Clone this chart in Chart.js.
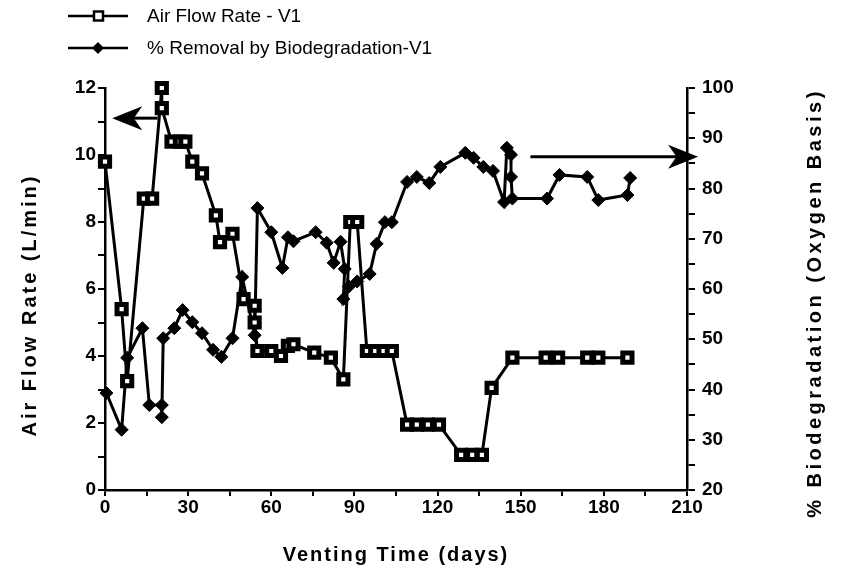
<!DOCTYPE html>
<html>
<head>
<meta charset="utf-8">
<script src="https://cdn.jsdelivr.net/npm/chart.js@4/dist/chart.umd.min.js"></script>
<style>
html,body{margin:0;padding:0;background:#fff;}
#wrap{width:841px;height:583px;position:relative;}
</style>
</head>
<body>
<div id="wrap"><canvas id="c"></canvas></div>
<script>
// ---- data ----
const flowDays  = [0, 6, 8, 14, 17, 20.5, 20.5, 24, 27, 29, 31.5, 35, 40, 41.5, 46, 50, 54, 54, 55, 60, 63.5, 66, 68, 75.5, 81.5, 86, 88.5, 91, 94.5, 97.5, 100.5, 103.5, 109, 112.5, 116.5, 120.5, 128.5, 132.5, 136, 139.5, 147, 159, 163.5, 174, 178, 188.5];
const flowRates = [9.8, 5.4, 3.25, 8.7, 8.7, 12, 11.4, 10.4, 10.4, 10.4, 9.8, 9.45, 8.2, 7.4, 7.65, 5.7, 5.5, 5.0, 4.15, 4.15, 4.0, 4.3, 4.35, 4.1, 3.95, 3.3, 8.0, 8.0, 4.15, 4.15, 4.15, 4.15, 1.95, 1.95, 1.95, 1.95, 1.05, 1.05, 1.05, 3.05, 3.95, 3.95, 3.95, 3.95, 3.95, 3.95];

const bioDays    = [0.5, 6, 8, 13.5, 16, 20.5, 20.5, 21, 25, 28, 31.5, 35, 39, 42, 46, 49.5, 54, 55, 60, 64, 66, 68, 76, 80, 82.5, 85, 86.5, 86, 88, 91, 95.5, 98, 101, 103.5, 109, 112.5, 117, 121, 130, 133, 136.5, 140, 144, 145, 146.5, 146.5, 147, 159.5, 164, 174, 178, 188.5, 189.5];
const bioRemoval = [39.3, 32, 46.3, 52.2, 36.9, 36.9, 34.5, 50.2, 52.2, 55.8, 53.4, 51.2, 47.9, 46.5, 50.2, 62.4, 50.8, 76.1, 71.3, 64.2, 70.3, 69.5, 71.3, 69.2, 65.2, 69.4, 64, 58, 60.5, 61.5, 63, 69, 73.3, 73.3, 81.3, 82.3, 81.1, 84.3, 87.1, 86.1, 84.3, 83.5, 77.3, 88.1, 86.7, 82.3, 78, 78, 82.7, 82.3, 77.7, 78.7, 82.1];

const xTicks     = [0, 30, 60, 90, 120, 150, 180, 210];
const leftTicks  = [0, 2, 4, 6, 8, 10, 12];
const rightTicks = [20, 30, 40, 50, 60, 70, 80, 90, 100];

const seriesNames = ['Air Flow Rate - V1', '% Removal by Biodegradation-V1'];
const xTitle = 'Venting Time (days)';
const leftTitle = 'Air Flow Rate (L/min)';
const rightTitle = '% Biodegradation (Oxygen Basis)';

// arrows (in data units)
const leftArrow  = {from: 19, to: 2.6, y: 11.1, axis: 'yL'};
const rightArrow = {from: 153.5, to: 214, y: 86.3, axis: 'yR'};

const FONT = "'Liberation Sans', Arial, Helvetica, sans-serif";
Chart.defaults.font.family = FONT;
Chart.defaults.color = '#000';

const toXY = (xs, ys) => xs.map((x, i) => ({x: x, y: ys[i]}));

function drawArrow(ctx, chart, a) {
  const xs = chart.scales.x, ys = chart.scales[a.axis];
  const x0 = xs.getPixelForValue(a.from), x1 = xs.getPixelForValue(a.to);
  const y = ys.getPixelForValue(a.y);
  const dir = Math.sign(x1 - x0);
  const headL = 30, headH = 12;
  ctx.save();
  ctx.strokeStyle = '#000'; ctx.fillStyle = '#000'; ctx.lineWidth = 3;
  ctx.beginPath(); ctx.moveTo(x0, y); ctx.lineTo(x1 - dir * headL * 0.6, y); ctx.stroke();
  ctx.beginPath();
  ctx.moveTo(x1, y);
  ctx.lineTo(x1 - dir * headL, y - headH);
  ctx.lineTo(x1 - dir * headL * 0.72, y);
  ctx.lineTo(x1 - dir * headL, y + headH);
  ctx.closePath(); ctx.fill();
  ctx.restore();
}

const decor = {
  id: 'decor',
  afterDraw(chart) {
    const ctx = chart.ctx;
    drawArrow(ctx, chart, leftArrow);
    drawArrow(ctx, chart, rightArrow);
    ctx.save();
    ctx.fillStyle = '#000';
    // axis titles
    ctx.font = 'bold 20px ' + FONT;
    ctx.textAlign = 'center'; ctx.textBaseline = 'middle';
    ctx.letterSpacing = '2px';
    ctx.fillText(xTitle, 396, 555);
    ctx.save(); ctx.translate(30, 305); ctx.rotate(-Math.PI / 2); ctx.letterSpacing = '3px'; ctx.fillText(leftTitle, 0, 0); ctx.restore();
    ctx.save(); ctx.translate(815, 303); ctx.rotate(-Math.PI / 2); ctx.letterSpacing = '3.5px'; ctx.fillText(rightTitle, 0, 0); ctx.restore();
    // legend
    ctx.letterSpacing = '0px';
    ctx.font = '19px ' + FONT;
    ctx.textAlign = 'left';
    const rows = [16, 48];
    rows.forEach((y, i) => {
      ctx.strokeStyle = '#000'; ctx.lineWidth = 2.5;
      ctx.beginPath(); ctx.moveTo(68, y); ctx.lineTo(128, y); ctx.stroke();
      if (i === 0) {
        ctx.fillStyle = '#fff'; ctx.lineWidth = 2.5;
        ctx.fillRect(94, y - 4.5, 9, 9); ctx.strokeRect(94, y - 4.5, 9, 9);
      } else {
        ctx.fillStyle = '#000';
        ctx.beginPath(); ctx.moveTo(98, y - 6); ctx.lineTo(104, y); ctx.lineTo(98, y + 6); ctx.lineTo(92, y); ctx.closePath(); ctx.fill();
      }
      ctx.fillStyle = '#000';
      ctx.fillText(seriesNames[i], 147, y + 1);
    });
    ctx.restore();
  }
};

const tickFont = {size: 19, weight: 'bold', family: FONT};

new Chart(document.getElementById('c'), {
  type: 'line',
  data: {
    datasets: [
      {
        label: seriesNames[0], data: toXY(flowDays, flowRates), yAxisID: 'yL',
        borderColor: '#000', borderWidth: 3, tension: 0,
        pointStyle: 'rect', pointRadius: 6.5, pointBorderWidth: 5,
        pointBackgroundColor: '#fff', pointBorderColor: '#000', clip: false
      },
      {
        label: seriesNames[1], data: toXY(bioDays, bioRemoval), yAxisID: 'yR',
        borderColor: '#000', borderWidth: 3, tension: 0,
        pointStyle: 'rectRot', pointRadius: 6.5, pointBorderWidth: 1,
        pointBackgroundColor: '#000', pointBorderColor: '#000', clip: false
      }
    ]
  },
  options: {
    responsive: true, maintainAspectRatio: false, animation: false,
    layout: {padding: {top: 88, left: 0, right: 0, bottom: 0}},
    plugins: {legend: {display: false}, tooltip: {enabled: false}},
    scales: {
      x: {
        type: 'linear', min: 0, max: 210,
        afterFit: s => { s.height = 93; },
        border: {display: true, color: '#000', width: 2.5},
        grid: {drawOnChartArea: false, drawTicks: true, tickLength: 6, color: '#000', lineWidth: 2},
        ticks: {stepSize: 15, autoSkip: false, maxRotation: 0, padding: 0, font: tickFont,
          callback: v => xTicks.includes(v) ? String(v) : ''}
      },
      yL: {
        type: 'linear', position: 'left', min: 0, max: 12,
        afterFit: s => { s.width = 105; },
        border: {display: true, color: '#000', width: 2.5},
        grid: {drawOnChartArea: false, drawTicks: true, tickLength: 7, color: '#000', lineWidth: 2},
        ticks: {stepSize: 1, autoSkip: false, padding: 2, font: tickFont,
          callback: v => leftTicks.includes(v) ? String(v) : ''}
      },
      yR: {
        type: 'linear', position: 'right', min: 20, max: 100,
        afterFit: s => { s.width = 154; },
        border: {display: true, color: '#000', width: 2.5},
        grid: {drawOnChartArea: false, drawTicks: true, tickLength: 8, color: '#000', lineWidth: 2},
        ticks: {stepSize: 5, autoSkip: false, padding: 7, font: tickFont,
          callback: v => rightTicks.includes(v) ? String(v) : ''}
      }
    }
  },
  plugins: [decor]
});
</script>
</body>
</html>
